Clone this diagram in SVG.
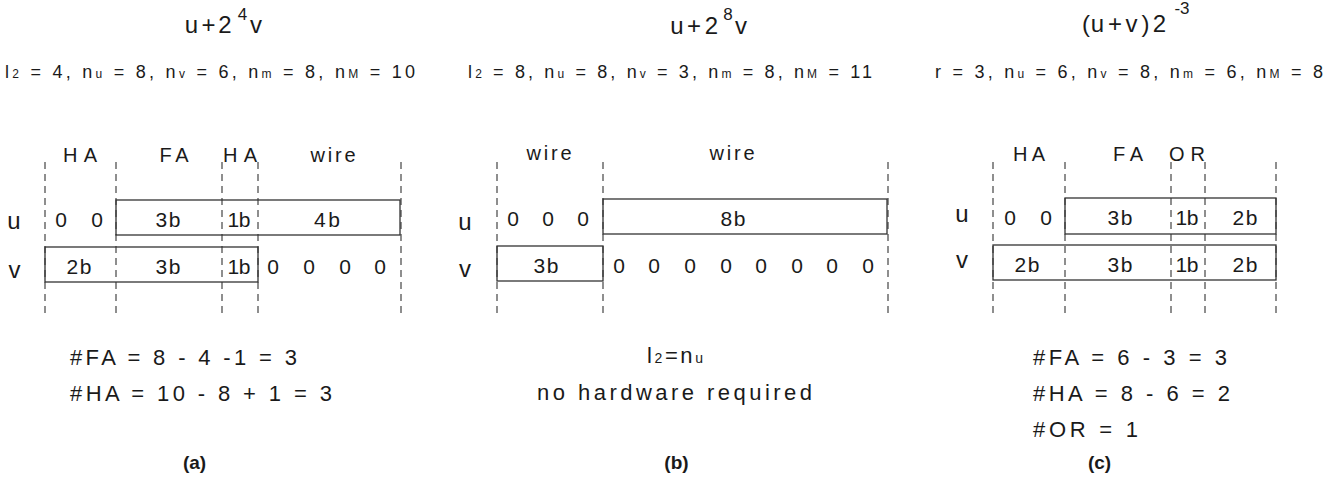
<svg xmlns="http://www.w3.org/2000/svg" width="1339" height="479" viewBox="0 0 1339 479">
<style>
text{font-family:"Liberation Sans",Arial,sans-serif;fill:#1a1a1a}
.title{font-size:24px;text-anchor:middle}
.sup{font-size:17px;text-anchor:middle}
.param{font-size:18px}
.sub{font-size:12px}
.col{font-size:20px;text-anchor:middle}
.cell{font-size:21px;text-anchor:middle}
.rl{font-size:24px;text-anchor:middle}
.eq{font-size:22px}
.cap{font-size:19px;font-weight:bold;text-anchor:middle}
.box{fill:none;stroke:#333;stroke-width:1.3}
.guide{stroke:#444;stroke-width:1.2;stroke-dasharray:7 5;fill:none}
</style>
<rect width="1339" height="479" fill="#fff"/>

<g id="guides">
<path class="guide" d="M45 162V316M116 162V316M222 162V316M258 162V316M401 162V316"/>
<path class="guide" d="M497 162V316M603 162V316M888 162V316"/>
<path class="guide" d="M993 162V316M1065 162V316M1171 162V316M1205 162V316M1276 162V316"/>
</g>

<g id="panel-a">
<text class="title" y="33"><tspan x="191.5">u</tspan><tspan x="208.5">+</tspan><tspan x="225">2</tspan><tspan class="sup" x="242.5" y="20">4</tspan><tspan x="256" y="33">v</tspan></text>
<text class="param" x="5" y="78" textLength="410" lengthAdjust="spacing">l<tspan class="sub">2</tspan> = 4, n<tspan class="sub">u</tspan> = 8, n<tspan class="sub">v</tspan> = 6, n<tspan class="sub">m</tspan> = 8, n<tspan class="sub">M</tspan> = 10</text>
<text class="col" x="80" y="162" textLength="34" lengthAdjust="spacing">HA</text>
<text class="col" x="174" y="162" textLength="29" lengthAdjust="spacing">FA</text>
<text class="col" x="240" y="162" textLength="34" lengthAdjust="spacing">HA</text>
<text class="col" x="333" y="162" textLength="45" lengthAdjust="spacing">wire</text>
<text class="rl" x="14" y="229">u</text>
<text class="rl" x="14.5" y="278">v</text>
<rect id="a-u" class="box" x="116" y="200" width="284" height="35"/>
<rect id="a-v" class="box" x="45" y="247" width="213" height="35"/>
<text class="cell" x="61" y="227">0</text>
<text class="cell" x="97" y="227">0</text>
<text class="cell" x="168" y="227" textLength="25" lengthAdjust="spacing">3b</text>
<text class="cell" x="239" y="227" textLength="23" lengthAdjust="spacing">1b</text>
<text class="cell" x="327" y="227" textLength="26" lengthAdjust="spacing">4b</text>
<text class="cell" x="79" y="274" textLength="25" lengthAdjust="spacing">2b</text>
<text class="cell" x="168" y="274" textLength="25" lengthAdjust="spacing">3b</text>
<text class="cell" x="239" y="274" textLength="23" lengthAdjust="spacing">1b</text>
<text class="cell" x="273" y="274">0</text>
<text class="cell" x="309" y="274">0</text>
<text class="cell" x="345" y="274">0</text>
<text class="cell" x="380" y="274">0</text>
<text class="eq" x="70" y="365" textLength="227" lengthAdjust="spacing">#FA = 8 - 4 -1 = 3</text>
<text class="eq" x="70" y="401" textLength="262" lengthAdjust="spacing">#HA = 10 - 8 + 1 = 3</text>
<text class="cap" x="194.5" y="469">(a)</text>
</g>

<g id="panel-b">
<text class="title" y="34"><tspan x="677">u</tspan><tspan x="694">+</tspan><tspan x="711.5">2</tspan><tspan class="sup" x="728" y="20">8</tspan><tspan x="741" y="34">v</tspan></text>
<text class="param" x="468" y="78" textLength="404" lengthAdjust="spacing">l<tspan class="sub">2</tspan> = 8, n<tspan class="sub">u</tspan> = 8, n<tspan class="sub">v</tspan> = 3, n<tspan class="sub">m</tspan> = 8, n<tspan class="sub">M</tspan> = 11</text>
<text class="col" x="549" y="160" textLength="45" lengthAdjust="spacing">wire</text>
<text class="col" x="732" y="160" textLength="45" lengthAdjust="spacing">wire</text>
<text class="rl" x="465" y="230">u</text>
<text class="rl" x="465" y="277">v</text>
<rect id="b-u" class="box" x="603" y="199" width="284" height="35"/>
<rect id="b-v" class="box" x="497" y="246" width="106" height="35"/>
<text class="cell" x="513" y="226">0</text>
<text class="cell" x="548" y="226">0</text>
<text class="cell" x="583" y="226">0</text>
<text class="cell" x="733" y="226" textLength="25" lengthAdjust="spacing">8b</text>
<text class="cell" x="546" y="273" textLength="25" lengthAdjust="spacing">3b</text>
<text class="cell" x="619" y="273">0</text>
<text class="cell" x="654" y="273">0</text>
<text class="cell" x="690" y="273">0</text>
<text class="cell" x="726" y="273">0</text>
<text class="cell" x="761" y="273">0</text>
<text class="cell" x="797" y="273">0</text>
<text class="cell" x="832" y="273">0</text>
<text class="cell" x="868" y="273">0</text>
<text class="eq" x="647" y="363" textLength="56" lengthAdjust="spacing">l<tspan class="sub" style="font-size:14px">2</tspan>=n<tspan class="sub" style="font-size:14px">u</tspan></text>
<text class="eq" x="537" y="400" textLength="275" lengthAdjust="spacing">no hardware required</text>
<text class="cap" x="676.5" y="469">(b)</text>
</g>

<g id="panel-c">
<text class="title" y="32"><tspan x="1086">(</tspan><tspan x="1097.5">u</tspan><tspan x="1115">+</tspan><tspan x="1131.5">v</tspan><tspan x="1145.5">)</tspan><tspan x="1159.5">2</tspan><tspan class="sup" x="1182" y="14">-3</tspan></text>
<text class="param" x="935" y="78" textLength="388" lengthAdjust="spacing">r = 3, n<tspan class="sub">u</tspan> = 6, n<tspan class="sub">v</tspan> = 8, n<tspan class="sub">m</tspan> = 6, n<tspan class="sub">M</tspan> = 8</text>
<text class="col" x="1029" y="161" textLength="32" lengthAdjust="spacing">HA</text>
<text class="col" x="1128" y="161" textLength="30" lengthAdjust="spacing">FA</text>
<text class="col" x="1187" y="161" textLength="36" lengthAdjust="spacing">OR</text>
<text class="rl" x="962" y="222">u</text>
<text class="rl" x="962" y="268">v</text>
<rect id="c-u" class="box" x="1065" y="198" width="211" height="36"/>
<rect id="c-v" class="box" x="993" y="245" width="283" height="35"/>
<text class="cell" x="1010" y="225">0</text>
<text class="cell" x="1046" y="225">0</text>
<text class="cell" x="1120" y="225" textLength="25" lengthAdjust="spacing">3b</text>
<text class="cell" x="1187" y="225" textLength="23" lengthAdjust="spacing">1b</text>
<text class="cell" x="1245" y="225" textLength="25" lengthAdjust="spacing">2b</text>
<text class="cell" x="1027" y="272" textLength="25" lengthAdjust="spacing">2b</text>
<text class="cell" x="1120" y="272" textLength="25" lengthAdjust="spacing">3b</text>
<text class="cell" x="1187" y="272" textLength="23" lengthAdjust="spacing">1b</text>
<text class="cell" x="1245" y="272" textLength="25" lengthAdjust="spacing">2b</text>
<text class="eq" x="1033" y="365" textLength="194" lengthAdjust="spacing">#FA = 6 - 3 = 3</text>
<text class="eq" x="1033" y="401" textLength="197" lengthAdjust="spacing">#HA = 8 - 6 = 2</text>
<text class="eq" x="1033" y="437" textLength="105" lengthAdjust="spacing">#OR = 1</text>
<text class="cap" x="1099.5" y="469">(c)</text>
</g>
</svg>
